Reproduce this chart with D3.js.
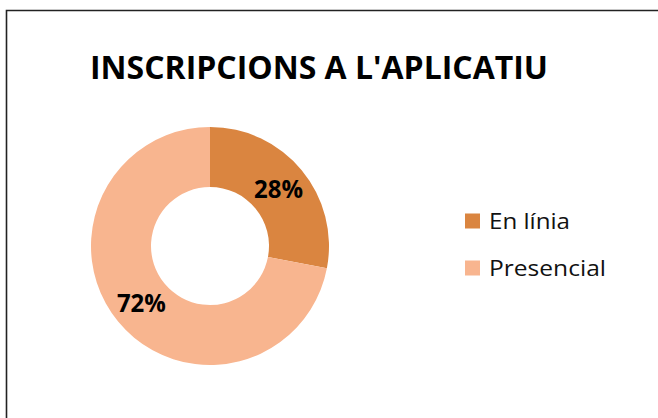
<!DOCTYPE html>
<html>
<head>
<meta charset="utf-8">
<script src="https://cdn.jsdelivr.net/npm/d3@7"></script>
<style>
  html, body { margin: 0; padding: 0; background: #fff; }
  svg { display: block; }
</style>
</head>
<body>
<svg id="chart" width="658" height="418"></svg>
<script>
const title = "INSCRIPCIONS A L'APLICATIU";
const categories = ["En línia", "Presencial"];
const values = [28, 72];
const colors = ["#DA8540", "#F8B58F"];

const W = 658, H = 418;
const svg = d3.select("#chart");
const font = "'Open Sans', 'Liberation Sans', sans-serif";

// frame (top and left borders visible, extends off-canvas)
svg.append("path")
  .attr("d", `M6.5,${H + 5} V10.5 H${W + 5}`)
  .attr("fill", "none")
  .attr("stroke", "#222")
  .attr("stroke-width", 1.6);

// title
svg.append("text")
  .attr("x", 90).attr("y", 79)
  .attr("font-family", font)
  .attr("font-weight", "bold")
  .attr("font-size", 32.5)
  .attr("textLength", 458)
  .attr("lengthAdjust", "spacingAndGlyphs")
  .attr("fill", "#000")
  .text(title);

const cx = 210, cy = 246, rOuter = 119, rInner = 59;
const pie = d3.pie().sort(null).value(d => d)(values);
const arc = d3.arc().innerRadius(rInner).outerRadius(rOuter);
const labelArc = d3.arc().innerRadius(rInner).outerRadius(rOuter);

const g = svg.append("g").attr("transform", `translate(${cx},${cy})`);
g.selectAll("path.slice").data(pie).enter().append("path")
  .attr("class", "slice")
  .attr("d", arc)
  .attr("fill", (d, i) => colors[i]);

const total = d3.sum(values);
g.selectAll("text.lbl").data(pie).enter().append("text")
  .attr("class", "lbl")
  .attr("transform", d => { const c = labelArc.centroid(d); return `translate(${c[0]},${c[1]})`; })
  .attr("text-anchor", "middle")
  .attr("dy", "0.36em")
  .attr("font-family", font)
  .attr("font-weight", "bold")
  .attr("font-size", 25)
  .attr("textLength", 49)
  .attr("lengthAdjust", "spacingAndGlyphs")
  .attr("fill", "#000")
  .text(d => Math.round(d.data / total * 100) + "%");

// legend
const leg = svg.append("g");
const legY = d3.scalePoint().domain(categories).range([221, 268]);
const item = leg.selectAll("g").data(categories).enter().append("g")
  .attr("transform", d => `translate(465,${legY(d)})`);
item.append("rect")
  .attr("x", 0).attr("y", -7.5)
  .attr("width", 15).attr("height", 15)
  .attr("fill", (d, i) => colors[i]);
item.append("text")
  .attr("x", 24).attr("y", 7.5)
  .attr("font-family", font)
  .attr("font-size", 21)
  .attr("fill", "#111")
  .attr("textLength", (d, i) => i === 0 ? 81 : 117)
  .attr("lengthAdjust", "spacingAndGlyphs")
  .text(d => d);
</script>
</body>
</html>
